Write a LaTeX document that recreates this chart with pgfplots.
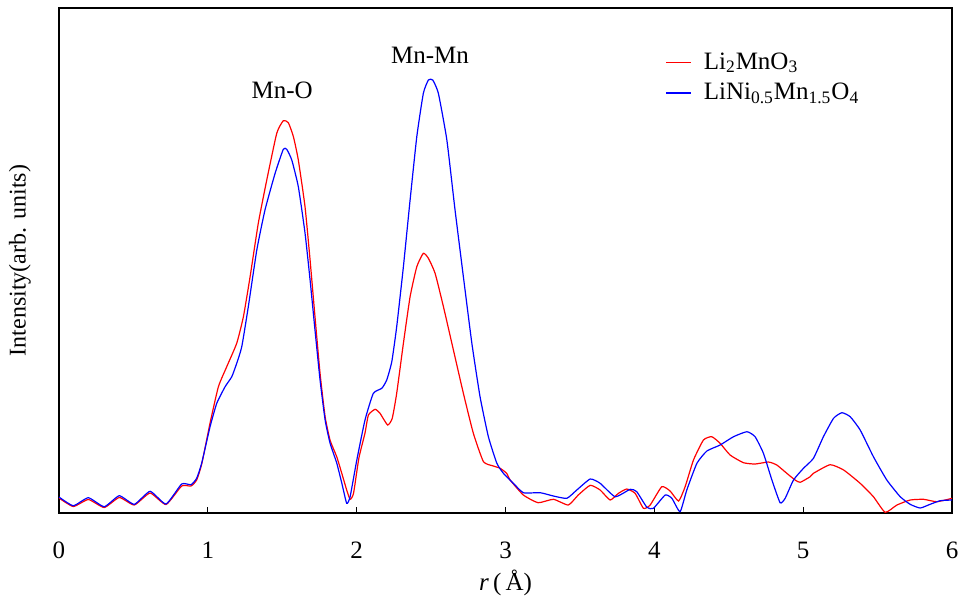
\documentclass[border=0pt]{standalone}
\usepackage{fontspec}
\setmainfont{Liberation Serif}
\usepackage{pgfplots}
\pgfplotsset{compat=1.18}
\begin{document}
\begin{tikzpicture}
\useasboundingbox (-29.5pt,-44.5pt) rectangle (451.5pt,256.5pt);
\begin{axis}[
  at={(0pt,0pt)}, anchor=south west,
  width=446.5pt, height=252.5pt, scale only axis,
  xmin=0, xmax=6, ymin=0, ymax=505,
  xtick={0,1,2,3,4,5,6},
  xticklabels={0,1,2,3,4,5,6},
  xtick pos=bottom, tick align=inside,
  major tick length=3pt,
  ytick=\empty,
  axis line style={line width=0.6pt},
  tick style={line width=0.5pt, black},
  /pgf/number format/assume math mode=true,
  tick label style={font=\fontsize{12.5}{14}\selectfont},
  xticklabel style={anchor=center, yshift=-18.5pt},
  xlabel={\textit{r}\,(\,Å)},
  xlabel style={font=\fontsize{12.5}{14}\selectfont, at={(axis description cs:0.5,-0.139)}, anchor=center},
  ylabel={Intensity(arb. units)},
  ylabel style={font=\fontsize{12}{14}\selectfont, at={(axis description cs:-0.0437,0.5)}, anchor=center},
  legend style={draw=none, fill=none, font=\fontsize{12.5}{14}\selectfont,
    at={(rel axis cs:0.672,0.928)}, anchor=north west, row sep=1.5pt},
  legend cell align=left,
  legend image code/.code={\draw[sharp plot,#1,line width=0.7pt] (0pt,0pt) -- (6pt,0pt) -- (12.5pt,0pt); \path (16.5pt,0pt);},
  clip=true,
]
\addplot[red, line width=0.6pt, smooth, tension=0.3] coordinates {
(0,15) (0.096,6.5) (0.197,13.5) (0.304,5.5) (0.405,15.5) (0.506,8) (0.612,20) (0.719,8.5)
(0.824,27) (0.887,27) (0.925,33) (0.959,49) (1.015,90) (1.071,126.3) (1.127,146.3)
(1.194,169.7) (1.239,196.3) (1.284,236.3) (1.339,289.7) (1.396,333) (1.463,379.7)
(1.507,392.3) (1.541,390.3) (1.575,376.3) (1.608,353) (1.653,306.3) (1.687,253)
(1.720,196.3) (1.754,139.7) (1.788,96.3) (1.821,73) (1.866,56.3) (1.900,39.7)
(1.933,23) (1.956,13.7) (1.979,19.7) (2.015,55) (2.056,80) (2.079,98) (2.124,103.7)
(2.157,99.7) (2.208,88) (2.239,94.7) (2.269,119.7) (2.314,169.7) (2.359,216.3)
(2.404,246.3) (2.448,259.7) (2.482,254.7) (2.527,239.7) (2.583,206.3) (2.650,163)
(2.717,119.7) (2.784,79.7) (2.852,51.3) (2.919,47) (2.964,44.7) (3.008,39.7)
(3.031,33) (3.120,18) (3.219,10.3) (3.322,13.7) (3.422,8) (3.489,18) (3.569,27.7)
(3.636,23) (3.703,13) (3.759,19.7) (3.815,24) (3.871,19.7) (3.927,4.7) (3.972,8)
(4.050,26.3) (4.106,22) (4.163,12) (4.207,26.3) (4.263,53) (4.330,73) (4.386,76.3)
(4.442,69.7) (4.509,58) (4.599,50.3) (4.677,49) (4.767,51) (4.823,48) (4.890,39.7)
(4.946,33) (4.980,30.7) (5.047,36.3) (5.069,39.7) (5.181,48.3) (5.272,43) (5.383,29.7)
(5.472,16.3) (5.551,0.7) (5.630,8) (5.719,13) (5.809,13.7) (5.898,11.3) (6.0,14.7)
};
\addlegendentry{Li\textsubscript{2}MnO\textsubscript{3}}
\addplot[blue, line width=0.6pt, smooth, tension=0.3] coordinates {
(0,16) (0.096,7.3) (0.197,15.3) (0.304,6.3) (0.405,17.3) (0.506,8.7) (0.612,21.7) (0.719,9)
(0.824,29) (0.887,28.3) (0.925,34.7) (0.959,50) (1.015,86.3) (1.060,109.7) (1.116,126.3)
(1.161,136.3) (1.194,149.7) (1.228,166.3) (1.272,206.3) (1.329,263) (1.384,303)
(1.452,339.7) (1.507,363.7) (1.530,363.7) (1.564,353) (1.608,326.3) (1.653,280)
(1.687,233) (1.720,183) (1.754,133) (1.788,93) (1.821,70) (1.866,50) (1.900,30)
(1.933,9.7) (1.956,16.3) (2.001,53) (2.056,93) (2.112,119.7) (2.169,124.7) (2.202,133)
(2.236,151.3) (2.269,186.3) (2.314,246.3) (2.359,313) (2.404,376.3) (2.448,419.7)
(2.482,433) (2.511,433) (2.549,419.7) (2.606,373) (2.661,303) (2.717,236.3)
(2.774,169.7) (2.829,116.3) (2.885,76.3) (2.942,49.7) (2.986,39.7) (3.053,29.7)
(3.120,20.3) (3.233,20.3) (3.322,17) (3.412,14.7) (3.479,23) (3.569,34) (3.636,29.7)
(3.737,16.3) (3.838,23.7) (3.882,21.3) (3.950,5.7) (3.994,4.7) (4.073,18) (4.118,14.7)
(4.173,1.3) (4.218,23) (4.286,49.7) (4.353,62) (4.442,68) (4.532,76.3) (4.622,81.3)
(4.677,76.3) (4.733,59.7) (4.790,33) (4.845,10.3) (4.879,14.7) (4.935,33) (5.002,44.7)
(5.069,54.7) (5.136,76.3) (5.204,94.7) (5.260,100.3) (5.316,96.3) (5.383,83)
(5.472,56.3) (5.562,33) (5.652,16.3) (5.719,8.7) (5.786,5) (5.853,8.7) (5.921,12.3) (6.0,13)
};
\addlegendentry{LiNi\textsubscript{0.5}Mn\textsubscript{1.5}O\textsubscript{4}}
\node[font=\fontsize{12.5}{14}\selectfont] at (axis cs:1.499,423) {Mn-O};
\node[font=\fontsize{12.5}{14}\selectfont] at (axis cs:2.493,458) {Mn-Mn};
\end{axis}
\end{tikzpicture}
\end{document}
